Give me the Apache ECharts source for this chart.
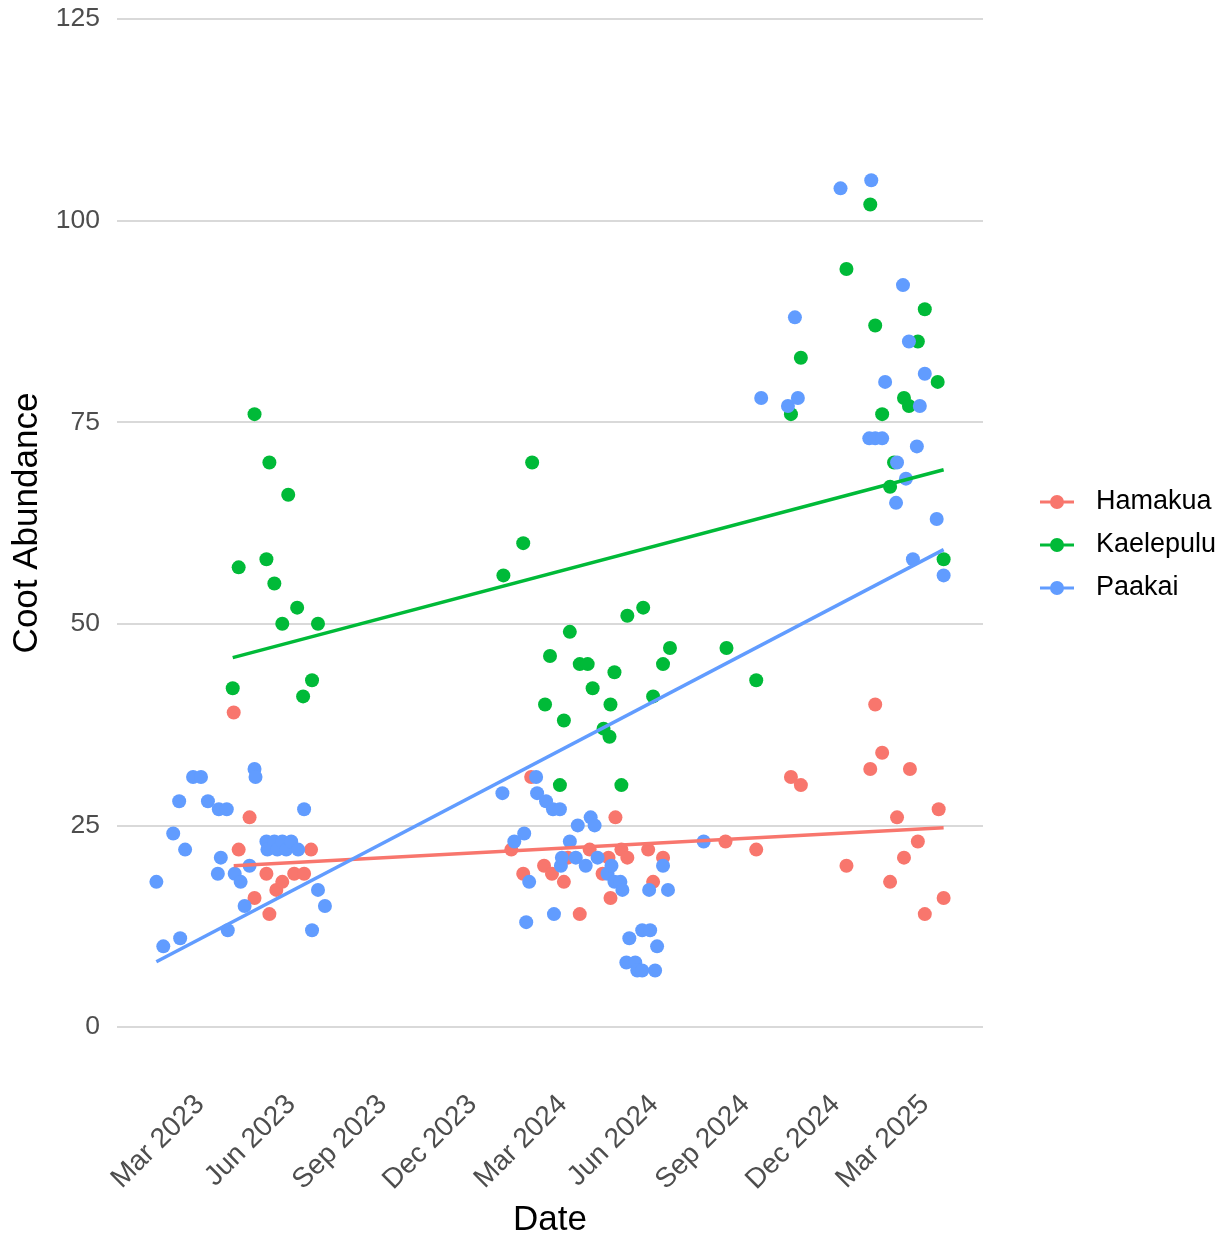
<!DOCTYPE html>
<html>
<head>
<meta charset="utf-8">
<title>Coot Abundance by Site</title>
<script src="https://cdn.jsdelivr.net/npm/echarts@6/dist/echarts.min.js"></script>
<style>
  html, body { margin: 0; padding: 0; background: #ffffff; }
  #chart { width: 1228px; height: 1237px; }
</style>
</head>
<body>
<div id="chart"></div>
<script>
// Survey counts per site: [survey date, coots counted]
const hamakua = [
  ['2023-04-04', 39], ['2023-04-09', 22], ['2023-04-20', 26], ['2023-04-25', 16],
  ['2023-05-07', 19], ['2023-05-10', 14], ['2023-05-17', 17], ['2023-05-23', 18],
  ['2023-06-04', 19], ['2023-06-14', 19], ['2023-06-21', 22],
  ['2024-01-09', 22], ['2024-01-21', 19], ['2024-01-29', 31], ['2024-02-11', 20],
  ['2024-02-19', 19], ['2024-03-02', 18], ['2024-03-06', 21], ['2024-03-18', 14],
  ['2024-03-28', 22], ['2024-04-10', 19], ['2024-04-16', 21], ['2024-04-18', 16],
  ['2024-04-23', 26], ['2024-04-29', 22], ['2024-05-05', 21], ['2024-05-26', 22],
  ['2024-05-31', 18], ['2024-06-10', 21], ['2024-08-12', 23], ['2024-09-12', 22],
  ['2024-10-17', 31], ['2024-10-27', 30], ['2024-12-12', 20],
  ['2025-01-05', 32], ['2025-01-10', 40], ['2025-01-17', 34], ['2025-01-25', 18],
  ['2025-02-01', 26], ['2025-02-08', 21], ['2025-02-14', 32], ['2025-02-22', 23],
  ['2025-03-01', 14], ['2025-03-15', 27], ['2025-03-20', 16]
];

const kaelepulu = [
  ['2023-04-03', 42], ['2023-04-09', 57], ['2023-04-25', 76], ['2023-05-07', 58],
  ['2023-05-10', 70], ['2023-05-15', 55], ['2023-05-23', 50], ['2023-05-29', 66],
  ['2023-06-07', 52], ['2023-06-13', 41], ['2023-06-22', 43], ['2023-06-28', 50],
  ['2024-01-01', 56], ['2024-01-21', 60], ['2024-01-30', 70], ['2024-02-12', 40],
  ['2024-02-17', 46], ['2024-02-27', 30], ['2024-03-02', 38], ['2024-03-08', 49],
  ['2024-03-18', 45], ['2024-03-26', 45], ['2024-03-31', 42], ['2024-04-11', 37],
  ['2024-04-17', 36], ['2024-04-18', 40], ['2024-04-22', 44], ['2024-04-29', 30],
  ['2024-05-05', 51], ['2024-05-21', 52], ['2024-05-31', 41], ['2024-06-10', 45],
  ['2024-06-17', 47], ['2024-08-13', 47], ['2024-09-12', 43],
  ['2024-10-17', 76], ['2024-10-27', 83], ['2024-12-12', 94],
  ['2025-01-05', 102], ['2025-01-10', 87], ['2025-01-17', 76], ['2025-01-25', 67],
  ['2025-01-29', 70], ['2025-02-08', 78], ['2025-02-13', 77], ['2025-02-22', 85],
  ['2025-03-01', 89], ['2025-03-14', 80], ['2025-03-20', 58]
];

const paakai = [
  ['2023-01-16', 18], ['2023-01-23', 10], ['2023-02-02', 24], ['2023-02-08', 28],
  ['2023-02-09', 11], ['2023-02-14', 22], ['2023-02-22', 31], ['2023-03-02', 31],
  ['2023-03-09', 28], ['2023-03-19', 19], ['2023-03-20', 27], ['2023-03-22', 21],
  ['2023-03-28', 27], ['2023-03-29', 12], ['2023-04-05', 19], ['2023-04-11', 18],
  ['2023-04-15', 15], ['2023-04-20', 20], ['2023-04-25', 32], ['2023-04-26', 31],
  ['2023-05-07', 23], ['2023-05-08', 22], ['2023-05-15', 23], ['2023-05-18', 22],
  ['2023-05-23', 23], ['2023-05-27', 22], ['2023-06-01', 23], ['2023-06-08', 22],
  ['2023-06-14', 27], ['2023-06-22', 12], ['2023-06-28', 17], ['2023-07-05', 15],
  ['2023-12-31', 29], ['2024-01-12', 23], ['2024-01-22', 24], ['2024-01-24', 13],
  ['2024-01-27', 18], ['2024-02-03', 31], ['2024-02-04', 29], ['2024-02-13', 28],
  ['2024-02-20', 27], ['2024-02-21', 14], ['2024-02-27', 27], ['2024-02-28', 20],
  ['2024-02-29', 21], ['2024-03-08', 23], ['2024-03-14', 21], ['2024-03-16', 25],
  ['2024-03-24', 20], ['2024-03-29', 26], ['2024-04-02', 25], ['2024-04-05', 21],
  ['2024-04-15', 19], ['2024-04-19', 20], ['2024-04-22', 18], ['2024-04-28', 18],
  ['2024-04-30', 17], ['2024-05-04', 8], ['2024-05-07', 11], ['2024-05-13', 8],
  ['2024-05-15', 7], ['2024-05-20', 7], ['2024-05-20', 12], ['2024-05-27', 17],
  ['2024-05-28', 12], ['2024-06-02', 7], ['2024-06-04', 10], ['2024-06-10', 20],
  ['2024-06-15', 17], ['2024-07-21', 23], ['2024-09-17', 78],
  ['2024-10-14', 77], ['2024-10-21', 88], ['2024-10-24', 78], ['2024-12-06', 104],
  ['2025-01-04', 73], ['2025-01-06', 105], ['2025-01-10', 73], ['2025-01-17', 73],
  ['2025-01-20', 80], ['2025-01-31', 65], ['2025-02-01', 70], ['2025-02-07', 92],
  ['2025-02-10', 68], ['2025-02-13', 85], ['2025-02-17', 58], ['2025-02-21', 72],
  ['2025-02-24', 77], ['2025-03-01', 81], ['2025-03-13', 63], ['2025-03-20', 56]
];

// Linear trend per site, as fitted: [date, fitted count] at each end of the site's record
const hamakuaTrend = [['2023-04-04', 20.0], ['2025-03-20', 24.7]];
const kaelepuluTrend = [['2023-04-03', 45.8], ['2025-03-20', 69.1]];
const paakaiTrend = [['2023-01-16', 8.1], ['2025-03-20', 59.2]];

const siteNames = ['Hamakua', 'Kaelepulu', 'Paakai'];
const siteColors = ['#F8766D', '#00BA38', '#619CFF'];

// Quarterly date breaks on the x axis
const tickDates = ['2023-03-01', '2023-06-01', '2023-09-01', '2023-12-01', '2024-03-01',
                   '2024-06-01', '2024-09-01', '2024-12-01', '2025-03-01'];
const tickLabels = ['Mar 2023', 'Jun 2023', 'Sep 2023', 'Dec 2023', 'Mar 2024',
                    'Jun 2024', 'Sep 2024', 'Dec 2024', 'Mar 2025'];

const yTicks = { min: 0, max: 125, step: 25 };

function toTime(s) {
  const p = s.split('-').map(Number);
  return Date.UTC(p[0], p[1] - 1, p[2]);
}
const toPoints = rows => rows.map(r => [toTime(r[0]), r[1]]);

const siteData = [hamakua, kaelepulu, paakai].map(toPoints);
const trendData = [hamakuaTrend, kaelepuluTrend, paakaiTrend].map(toPoints);

// x range padded by 5% on each side of the data
const allTimes = [].concat.apply([], siteData.map(d => d.map(p => p[0])));
const tMin = Math.min.apply(null, allTimes), tMax = Math.max.apply(null, allTimes);
const tPad = (tMax - tMin) * 0.05;

const tickTimes = tickDates.map(toTime);

const baseFont = "'Liberation Sans', Arial, sans-serif";

// legend key: short line with a dot in the middle (pieces do not overlap)
const legendIcon = 'path://M0,5.5H10.5V8.5H0Z M23.5,5.5H34V8.5H23.5Z M10,7A7,7,0,1,1,24,7A7,7,0,1,1,10,7Z';

const series = [];
siteNames.forEach((name, i) => {
  series.push({
    name: name,
    type: 'scatter',
    data: siteData[i],
    symbol: 'circle',
    symbolSize: 14,
    itemStyle: { color: siteColors[i], opacity: 1, borderWidth: 0 },
    z: 2
  });
});
siteNames.forEach((name, i) => {
  series.push({
    name: name,
    type: 'line',
    data: trendData[i],
    showSymbol: false,
    symbol: 'none',
    lineStyle: { color: siteColors[i], width: 3.5 },
    itemStyle: { color: siteColors[i] },
    z: 3
  });
});

const chart = echarts.init(document.getElementById('chart'), null, { renderer: 'canvas' });
chart.setOption({
  animation: false,
  backgroundColor: '#ffffff',
  grid: { left: 117, right: 245, top: 19, bottom: 210, containLabel: false, outerBoundsMode: 'none' },
  legend: {
    data: siteNames,
    orient: 'vertical',
    left: 1040,
    top: 487,
    padding: 0,
    itemWidth: 34,
    itemHeight: 14,
    itemGap: 13,
    icon: legendIcon,
    selectedMode: false,
    itemStyle: { borderWidth: 0 },
    textStyle: { fontFamily: baseFont, fontSize: 27, color: '#000000', lineHeight: 30, padding: [0, 0, 0, 17] }
  },
  xAxis: {
    type: 'value',
    min: tMin - tPad,
    max: tMax + tPad,
    name: 'Date',
    nameLocation: 'middle',
    nameGap: 176,
    nameTextStyle: { fontFamily: baseFont, fontSize: 35, color: '#000000' },
    axisLine: { show: false },
    axisTick: { show: false },
    splitLine: { show: false },
    axisLabel: {
      customValues: tickTimes,
      rotate: 45,
      margin: 73,
      fontFamily: baseFont,
      fontSize: 28,
      color: '#4d4d4d',
      hideOverlap: false,
      formatter: function (v) {
        const k = tickTimes.indexOf(v);
        return k >= 0 ? tickLabels[k] : '';
      }
    }
  },
  yAxis: {
    type: 'value',
    min: yTicks.min,
    max: yTicks.max,
    interval: yTicks.step,
    name: 'Coot Abundance',
    nameLocation: 'middle',
    nameRotate: 90,
    nameGap: 63,
    nameTextStyle: { fontFamily: baseFont, fontSize: 35, color: '#000000' },
    axisLine: { show: false },
    axisTick: { show: false },
    axisLabel: { margin: 17, fontFamily: baseFont, fontSize: 26.5, color: '#4d4d4d' },
    splitLine: { show: true, lineStyle: { color: '#d9d9d9', width: 2 } }
  },
  series: series
});
</script>
</body>
</html>
